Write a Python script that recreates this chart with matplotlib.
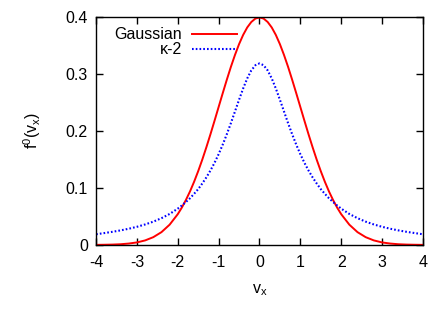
import matplotlib
matplotlib.use("Agg")
import matplotlib.pyplot as plt

# velocity grid and the two distributions
vx = [-4.0, -3.8, -3.6, -3.4, -3.2, -3.0, -2.8, -2.6, -2.4, -2.2,
      -2.0, -1.9, -1.8, -1.7, -1.6, -1.5, -1.4, -1.3, -1.2, -1.1,
      -1.0, -0.9, -0.8, -0.7, -0.6, -0.5, -0.4, -0.3, -0.2, -0.1,
      0.0, 0.1, 0.2, 0.3, 0.4, 0.5, 0.6, 0.7, 0.8, 0.9,
      1.0, 1.1, 1.2, 1.3, 1.4, 1.5, 1.6, 1.7, 1.8, 1.9,
      2.0, 2.2, 2.4, 2.6, 2.8, 3.0, 3.2, 3.4, 3.6, 3.8, 4.0]

gaussian = [0.0001, 0.0003, 0.0006, 0.0012, 0.0024, 0.0044, 0.0079, 0.0136, 0.0224, 0.0355,
            0.0540, 0.0656, 0.0790, 0.0940, 0.1109, 0.1295, 0.1497, 0.1714, 0.1942, 0.2179,
            0.2420, 0.2661, 0.2897, 0.3123, 0.3332, 0.3521, 0.3683, 0.3814, 0.3910, 0.3970,
            0.3989, 0.3970, 0.3910, 0.3814, 0.3683, 0.3521, 0.3332, 0.3123, 0.2897, 0.2661,
            0.2420, 0.2179, 0.1942, 0.1714, 0.1497, 0.1295, 0.1109, 0.0940, 0.0790, 0.0656,
            0.0540, 0.0355, 0.0224, 0.0136, 0.0079, 0.0044, 0.0024, 0.0012, 0.0006, 0.0003, 0.0001]

kappa2 = [0.0187, 0.0208, 0.0230, 0.0255, 0.0284, 0.0318, 0.0359, 0.0408, 0.0469, 0.0543,
          0.0637, 0.0692, 0.0754, 0.0819, 0.0897, 0.0979, 0.1078, 0.1185, 0.1306, 0.1441,
          0.1592, 0.1759, 0.1941, 0.2136, 0.2341, 0.2546, 0.2744, 0.2920, 0.3061, 0.3152,
          0.3183, 0.3152, 0.3061, 0.2920, 0.2744, 0.2546, 0.2341, 0.2136, 0.1941, 0.1759,
          0.1592, 0.1441, 0.1306, 0.1185, 0.1078, 0.0979, 0.0897, 0.0819, 0.0754, 0.0692,
          0.0637, 0.0543, 0.0469, 0.0408, 0.0359, 0.0318, 0.0284, 0.0255, 0.0230, 0.0208, 0.0187]

xticks = [-4, -3, -2, -1, 0, 1, 2, 3, 4]
yticks = [0, 0.1, 0.2, 0.3, 0.4]
ytick_labels = ["0", "0.1", "0.2", "0.3", "0.4"]

plt.rcParams["font.family"] = ["Liberation Sans", "DejaVu Sans"]
plt.rcParams["font.size"] = 11.5
plt.rcParams["mathtext.fontset"] = "custom"
plt.rcParams["mathtext.rm"] = "Liberation Sans"
plt.rcParams["mathtext.it"] = "Liberation Sans"

fig = plt.figure(figsize=(4.47, 3.12), dpi=100)
ax = fig.add_axes([0.215, 0.215, 0.731, 0.731])

ax.plot(vx, gaussian, color="#ff0000", lw=1.4, label="Gaussian")
ax.plot(vx, kappa2, color="#0000ff", lw=1.5, linestyle=(0, (0.8, 1.0)), label="κ-2")

ax.set_xlim(-4, 4)
ax.set_ylim(0, 0.4)
ax.set_xticks(xticks)
ax.set_xticklabels([str(t) for t in xticks])
ax.set_yticks(yticks)
ax.set_yticklabels(ytick_labels)
ax.tick_params(direction="in", length=5, width=1, top=True, right=True, pad=6)
ax.tick_params(axis="x", pad=7)
for s in ax.spines.values():
    s.set_linewidth(1.0)

ax.set_xlabel(r"v$_\mathregular{x}$", labelpad=9)
ax.set_ylabel(r"f$^\mathregular{0}$(v$_\mathregular{x}$)", labelpad=16)

ax.legend(loc="upper right", bbox_to_anchor=(0.43, 0.955), frameon=False,
          markerfirst=False, handlelength=2.8, handletextpad=0.6,
          labelspacing=0.0, borderaxespad=0, borderpad=0)

fig.savefig("out.png", dpi=100)
